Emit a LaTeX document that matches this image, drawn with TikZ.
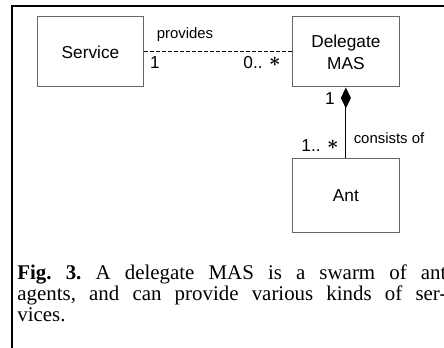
\documentclass[tikz,border=0pt]{standalone}
\usepackage{amsmath}
\usepackage{fontspec}
\setmainfont{Liberation Serif}
\setsansfont{Liberation Sans}
\usetikzlibrary{arrows.meta,positioning}
\newcommand{\manystar}{\raisebox{1.2pt}{\fontsize{11}{11}\selectfont$\boldsymbol{\ast}$}}
\tikzset{
  classbox/.style={draw=black!60, line width=0.55pt, minimum width=58.5pt,
    minimum height=38.5pt, inner sep=0pt, align=center,
    font=\sffamily\fontsize{9.5}{12}\selectfont},
  mult/.style={inner sep=0pt, font=\sffamily\fontsize{9.5}{11}\selectfont},
  assoc/.style={inner sep=0pt, font=\sffamily\fontsize{8.2}{10}\selectfont},
}

\begin{document}
\begin{tikzpicture}[x=0.55pt, y=0.55pt]
    \useasboundingbox (0,0) rectangle (444,347);
    \draw[line width=1.1pt] (12,-5) -- (12,341) -- (450,341);
    \node[classbox] (service) at (90.5,295) {Service};
    \node[classbox, right=81.4pt of service] (mas) {Delegate\\MAS};
    \node[classbox, below=39pt of mas, minimum height=40.7pt] (ant) {Ant};
    \draw[line width=0.55pt, dash pattern=on 2.2pt off 1.1pt] (service) -- (mas);
    \draw[line width=0.55pt, -{Diamond[length=11.5pt,width=5.5pt]}] (ant) -- (mas);
    \node[assoc] (provides) at (185,312) {provides};
    \node[mult] (srvone) at (155,284) {1};
    \node[mult] (masmany) at (262,284) {0.. \manystar};
    \node[mult] (masone) at (330,248) {1};
    \node[assoc] (consists) at (389,209) {consists of};
    \node[mult] (antmany) at (320,201) {1.. \manystar};
    \node[anchor=base west, text width=236pt, align=justify, inner sep=0pt,
      font=\fontsize{11.5}{11.6}\selectfont\frenchspacing] (caption) at (17,68)
      {\textbf{Fig. 3.} A delegate MAS is a swarm of ant\linebreak
       agents, and can provide various kinds of ser-\linebreak vices.};
\end{tikzpicture}
\end{document}
